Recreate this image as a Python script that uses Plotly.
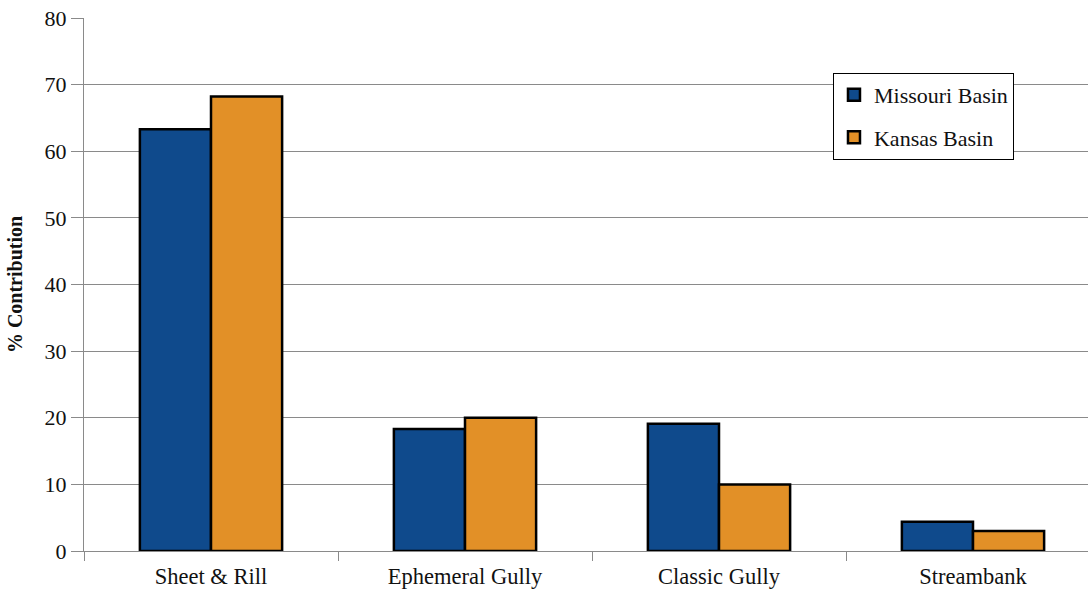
import plotly.graph_objects as go

categories = ["Sheet & Rill", "Ephemeral Gully", "Classic Gully", "Streambank"]
missouri = [63.3, 18.3, 19.1, 4.4]
kansas = [68.2, 20.0, 10.0, 3.0]
y_ticks = [0, 10, 20, 30, 40, 50, 60, 70, 80]

FONT = "Liberation Serif"
GRID = "#8a8a8a"

fig = go.Figure()
fig.add_trace(go.Bar(
    name="Missouri Basin", x=categories, y=missouri,
    marker=dict(color="#0F4A8C", line=dict(color="#000000", width=2.5)),
    legendgroup="a",
))
fig.add_trace(go.Bar(
    name="Kansas Basin", x=categories, y=kansas,
    marker=dict(color="#E29027", line=dict(color="#000000", width=2.5)),
    legendgroup="b",
))

fig.update_layout(
    width=1088, height=589,
    margin=dict(l=84, r=0, t=18, b=38),
    paper_bgcolor="white", plot_bgcolor="white",
    barmode="group", bargap=0.44, bargroupgap=0,
    font=dict(family=FONT, size=22, color="#111111"),
    showlegend=True,
    legend=dict(
        x=0.746, y=0.897, xanchor="left", yanchor="top",
        bgcolor="white", bordercolor="#000000", borderwidth=1,
        font=dict(family=FONT, size=22, color="#111111"),
        traceorder="grouped", tracegroupgap=11,
    ),
    xaxis=dict(
        type="category", range=[-0.5, 3.5 - 12 / 254],
        showline=True, linecolor=GRID, linewidth=1,
        ticks="outside", tickson="boundaries", ticklen=9, tickcolor=GRID,
        ticklabelstandoff=5,
        showgrid=False, tickfont=dict(family=FONT, size=22.5),
    ),
    yaxis=dict(
        range=[0, 80], tickvals=y_ticks,
        showline=True, linecolor=GRID, linewidth=1,
        ticks="outside", ticklen=12, tickcolor=GRID,
        showgrid=True, gridcolor=GRID, gridwidth=1,
        zeroline=True, zerolinecolor=GRID, zerolinewidth=1,
        tickfont=dict(family=FONT, size=22),
        title=dict(text="<b>% Contribution</b>", font=dict(family=FONT, size=20), standoff=16),
    ),
)

fig.write_html("out.html")
